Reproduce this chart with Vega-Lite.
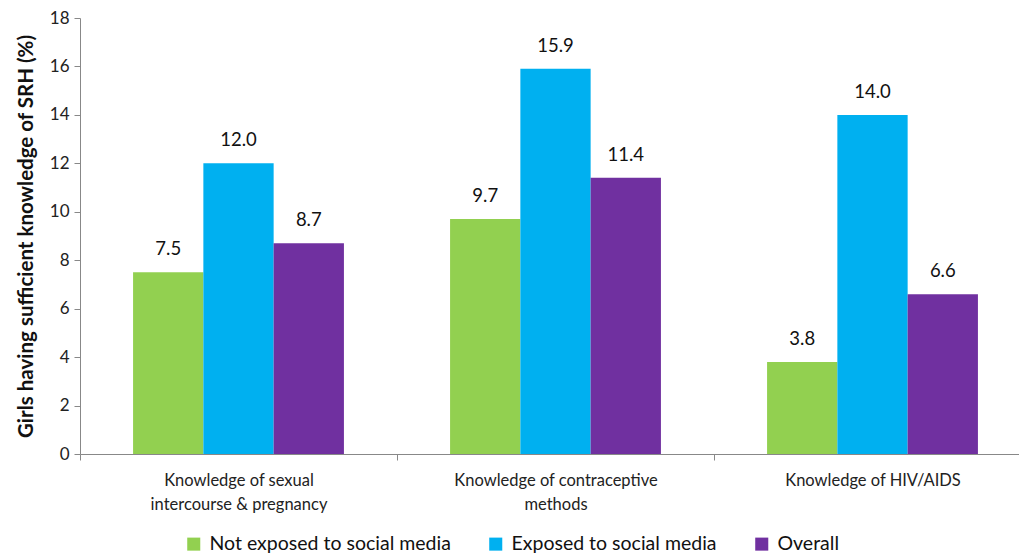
{
  "$schema": "https://vega.github.io/schema/vega-lite/v6.json",
  "autosize": {"type": "none"},
  "padding": {"left": 80, "top": 18, "right": 0, "bottom": 101},
  "width": 951,
  "height": 436,
  "background": "white",
  "config": {"view": {"stroke": null}, "font": "Lato"},
  "data": {"values": [
    {"cat": "Knowledge of sexual|intercourse & pregnancy", "grp": "Not exposed to social media", "v": 7.5},
    {"cat": "Knowledge of sexual|intercourse & pregnancy", "grp": "Exposed to social media", "v": 12.0},
    {"cat": "Knowledge of sexual|intercourse & pregnancy", "grp": "Overall", "v": 8.7},
    {"cat": "Knowledge of contraceptive|methods", "grp": "Not exposed to social media", "v": 9.7},
    {"cat": "Knowledge of contraceptive|methods", "grp": "Exposed to social media", "v": 15.9},
    {"cat": "Knowledge of contraceptive|methods", "grp": "Overall", "v": 11.4},
    {"cat": "Knowledge of HIV/AIDS", "grp": "Not exposed to social media", "v": 3.8},
    {"cat": "Knowledge of HIV/AIDS", "grp": "Exposed to social media", "v": 14.0},
    {"cat": "Knowledge of HIV/AIDS", "grp": "Overall", "v": 6.6}
  ]},
  "encoding": {
    "x": {"field": "cat", "type": "nominal", "sort": null,
      "scale": {"paddingInner": 0, "paddingOuter": 0},
      "axis": {"title": null, "labelAngle": 0, "tickBand": "extent", "labelExpr": "split(datum.label, '|')",
        "labelFontSize": 16.5, "labelColor": "#222", "labelLineHeight": 24, "labelPadding": 12, "labelLimit": 0,
        "domainColor": "#888", "tickColor": "#888", "tickSize": 6, "labelBaseline": "top", "labelFont": "Lato"}},
    "xOffset": {"field": "grp", "type": "nominal", "sort": ["Not exposed to social media", "Exposed to social media", "Overall"], "scale": {"paddingInner": 0, "paddingOuter": 0.755}},
    "y": {"field": "v", "type": "quantitative",
      "scale": {"domain": [0, 18]},
      "axis": {"title": "Girls having sufficient knowledge of SRH (%)", "titleFontSize": 20.5, "titleFontWeight": "bold", "titleColor": "#111", "titlePadding": 13,
        "values": [0, 2, 4, 6, 8, 10, 12, 14, 16, 18], "grid": false, "labelFontSize": 17, "labelColor": "#222", "labelPadding": 5,
        "domainColor": "#888", "tickColor": "#888", "tickSize": 6}}
  },
  "layer": [
    {"mark": {"type": "bar"},
     "encoding": {"color": {"field": "grp", "type": "nominal", "sort": ["Not exposed to social media", "Exposed to social media", "Overall"],
       "scale": {"range": ["#92D050", "#00B0F0", "#7030A0"]},
       "legend": {"title": null, "orient": "none", "direction": "horizontal", "legendX": 104, "legendY": 516,
         "symbolType": "square", "symbolSize": 170, "symbolStrokeWidth": 0, "labelFontSize": 19.5, "labelLimit": 0, "labelColor": "#111", "columnPadding": 35, "labelOffset": 6}}}},
    {"mark": {"type": "text", "dy": -23, "fontSize": 18.5, "color": "#111"},
     "encoding": {"text": {"field": "v", "type": "quantitative", "format": ".1f"}}}
  ]
}
